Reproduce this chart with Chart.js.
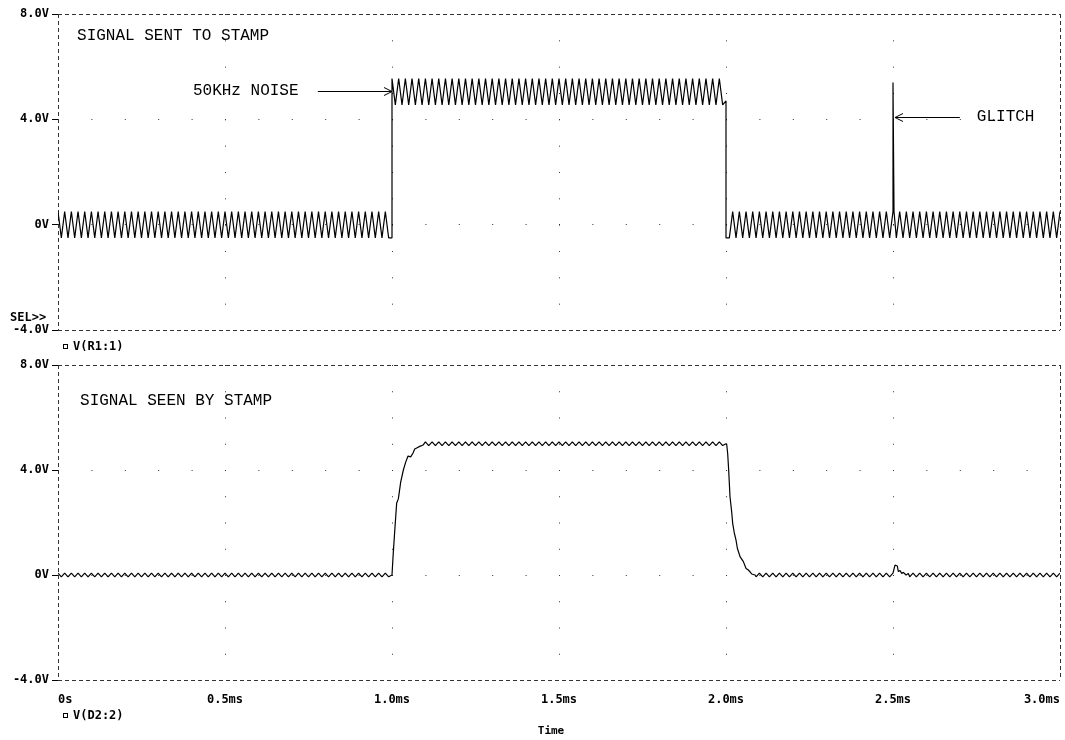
<!DOCTYPE html>
<html>
<head>
<meta charset="utf-8">
<script src="https://cdn.jsdelivr.net/npm/chart.js@4.4.1/dist/chart.umd.min.js"></script>
<style>
  html, body { margin: 0; padding: 0; background: #fff; }
  #boxSent { position: absolute; left: 0; top: 0; width: 1065px; height: 351px; }
  #boxSeen { position: absolute; left: 0; top: 351px; width: 1065px; height: 389px; }
</style>
</head>
<body>
<div id="boxSent"><canvas id="sent"></canvas></div>
<div id="boxSeen"><canvas id="seen"></canvas></div>
<script>
// eixos
const tickTimes = [0, 0.5, 1.0, 1.5, 2.0, 2.5, 3.0];
const tickTimeLabels = ['0s', '0.5ms', '1.0ms', '1.5ms', '2.0ms', '2.5ms', '3.0ms'];
const tickVolts = [-4, 0, 4, 8];
const tickVoltLabels = ['-4.0V', '0V', '4.0V', '8.0V'];

// ruido de 50 kHz: um pico ou vale a cada 10 us (0.01 ms)
const noiseStep = 0.01;

// V(R1:1) - sinal enviado
const sentLow = 0;
const sentHigh = 5.05;
const sentNoise = 0.5;
const sentRise = [[1.0, -0.5], [1.0, 5.55]];
const sentFall = [[2.0, 4.7], [2.0, -0.5]];
const sentGlitch = [[2.5, 5.4], [2.503, 0.5]];

// V(D2:2) - sinal visto
const seenLow = 0;
const seenHigh = 5.0;
const seenNoise = 0.07;
const seenRise = [[1.0, 0.0], [1.004, 0.88], [1.009, 1.83], [1.014, 2.74], [1.019, 2.9], [1.026, 3.54],
  [1.034, 4.0], [1.041, 4.3], [1.048, 4.53], [1.056, 4.5], [1.063, 4.65], [1.068, 4.8], [1.074, 4.84],
  [1.083, 4.9], [1.093, 4.95]];
const seenFall = [[2.0, 5.0], [2.002, 4.99], [2.005, 4.63], [2.008, 4.0], [2.012, 2.98], [2.017, 2.41],
  [2.020, 1.97], [2.025, 1.59], [2.030, 1.33], [2.034, 1.02], [2.042, 0.70], [2.052, 0.51], [2.060, 0.25],
  [2.067, 0.19], [2.077, 0.04], [2.087, 0.0]];
const seenGlitch = [[2.506, 0.38], [2.513, 0.34], [2.516, 0.13], [2.521, 0.17], [2.526, 0.06],
  [2.531, 0.10], [2.539, 0.0], [2.546, 0.06]];

// picos e vales do ruido, repetidos do indice k0 ate k1
function ripple(level, amp, k0, k1) {
    const pts = [];
    for (let k = k0; k <= k1; k++) {
        pts.push({ x: +(k * noiseStep).toFixed(3), y: level + (k % 2 === 0 ? amp : -amp) });
    }
    return pts;
}
const toPts = arr => arr.map(p => ({ x: p[0], y: p[1] }));

const sentData = [
    ...ripple(sentLow, sentNoise, 0, 99), ...toPts(sentRise),
    ...ripple(sentHigh, sentNoise, 101, 199), ...toPts(sentFall),
    ...ripple(sentLow, sentNoise, 201, 250), ...toPts(sentGlitch),
    ...ripple(sentLow, sentNoise, 251, 300)
];
const seenData = [
    ...ripple(seenLow, seenNoise, 0, 99), ...toPts(seenRise),
    ...ripple(seenHigh, seenNoise, 110, 199), ...toPts(seenFall),
    ...ripple(seenLow, seenNoise, 209, 250), ...toPts(seenGlitch),
    ...ripple(seenLow, seenNoise, 255, 300)
];

const labelFont = { family: '"DejaVu Sans Mono", monospace', size: 12, weight: 'bold' };
const noteFont = '16px "Liberation Mono", monospace';
const boldFont = 'bold 12px "DejaVu Sans Mono", monospace';

// moldura tracejada nas bordas, pontinhos nas linhas internas
function gridDash(c, axis) {
    if (!c.tick) return [];
    const a = c.chart.chartArea;
    if (!a) return [];
    const v = c.tick.value;
    if (axis === 'x') {
        if (v === 0 || v === 3) return [4, 3];
        return [1, (a.bottom - a.top) / 12 - 1]; // um ponto por volt
    }
    if (v === -4 || v === 8) return [4, 3];
    return [1, (a.right - a.left) / 30 - 1]; // um ponto a cada 0.1 ms
}

function makeScales(showTime) {
    return {
        x: {
            type: 'linear', min: 0, max: 3,
            afterBuildTicks: s => { s.ticks = tickTimes.map(v => ({ value: v })); },
            afterFit: s => { s.height = showTime ? 60 : 0; },
            ticks: {
                display: showTime, autoSkip: false, maxRotation: 0, align: 'inner', padding: 4,
                color: '#000', font: labelFont,
                callback: (v, i) => tickTimeLabels[i]
            },
            grid: { color: '#333', lineWidth: 1, drawTicks: showTime, tickLength: 9, tickColor: 'rgba(0,0,0,0)' },
            border: { display: false, dash: c => gridDash(c, 'x') }
        },
        y: {
            type: 'linear', min: -4, max: 8,
            afterBuildTicks: s => { s.ticks = tickVolts.map(v => ({ value: v })); },
            afterFit: s => { s.width = 58; },
            ticks: {
                color: '#000', font: labelFont, padding: 3,
                callback: (v, i) => tickVoltLabels[i]
            },
            grid: { color: '#333', lineWidth: 1, drawTicks: true, tickLength: 6, tickColor: '#000', tickBorderDash: [] },
            border: { display: false, dash: c => gridDash(c, 'y') }
        }
    };
}

function arrow(ctx, x1, x2, y) {
    const dir = x2 > x1 ? 1 : -1;
    ctx.beginPath();
    ctx.moveTo(x1, y + 0.5);
    ctx.lineTo(x2, y + 0.5);
    ctx.moveTo(x2 - dir * 8, y - 3.5);
    ctx.lineTo(x2, y + 0.5);
    ctx.lineTo(x2 - dir * 8, y + 4.5);
    ctx.stroke();
}

function legend(ctx, x, y, text) {
    ctx.strokeRect(x + 0.5, y - 2.5, 4, 4);
    ctx.font = boldFont;
    ctx.textBaseline = 'middle';
    ctx.fillText(text, x + 10, y);
}

const sentNotes = {
    id: 'sentNotes',
    afterDraw(chart) {
        const { ctx, chartArea: a } = chart;
        const x = chart.scales.x, y = chart.scales.y;
        ctx.save();
        ctx.fillStyle = '#000';
        ctx.strokeStyle = '#000';
        ctx.lineWidth = 1;
        ctx.font = noteFont;
        ctx.textBaseline = 'middle';
        ctx.fillText('SIGNAL SENT TO STAMP', x.getPixelForValue(0.057), y.getPixelForValue(7.17));
        ctx.fillText('50KHz NOISE', x.getPixelForValue(0.404), y.getPixelForValue(5.08));
        ctx.fillText('GLITCH', x.getPixelForValue(2.751), y.getPixelForValue(4.09));
        arrow(ctx, x.getPixelForValue(0.778), x.getPixelForValue(1.0), Math.round(y.getPixelForValue(5.08)));
        arrow(ctx, x.getPixelForValue(2.70), x.getPixelForValue(2.506), Math.round(y.getPixelForValue(4.09)));
        ctx.font = boldFont;
        ctx.fillText('SEL>>', 10, a.bottom - 12);
        legend(ctx, a.left + 5, a.bottom + 17, 'V(R1:1)');
        ctx.restore();
    }
};

const seenNotes = {
    id: 'seenNotes',
    afterDraw(chart) {
        const { ctx, chartArea: a } = chart;
        const x = chart.scales.x, y = chart.scales.y;
        ctx.save();
        ctx.fillStyle = '#000';
        ctx.strokeStyle = '#000';
        ctx.lineWidth = 1;
        ctx.font = noteFont;
        ctx.textBaseline = 'middle';
        ctx.fillText('SIGNAL SEEN BY STAMP', x.getPixelForValue(0.066), y.getPixelForValue(6.63));
        legend(ctx, a.left + 5, a.bottom + 36, 'V(D2:2)');
        ctx.font = 'bold 11px "DejaVu Sans Mono", monospace';
        ctx.textAlign = 'center';
        ctx.fillText('Time', 551, a.bottom + 51);
        ctx.restore();
    }
};

function makeChart(id, data, showTime, notes, padBottom) {
    return new Chart(document.getElementById(id), {
        type: 'line',
        data: {
            datasets: [{
                data: data,
                borderColor: '#000',
                borderWidth: 1.2,
                borderJoinStyle: 'bevel',
                pointRadius: 0,
                tension: 0,
                fill: false
            }]
        },
        options: {
            responsive: true,
            maintainAspectRatio: false,
            animation: false,
            devicePixelRatio: 1,
            layout: { padding: { left: 0, right: 5, top: 14, bottom: padBottom } },
            plugins: { legend: { display: false }, tooltip: { enabled: false } },
            scales: makeScales(showTime)
        },
        plugins: [notes]
    });
}

makeChart('sent', sentData, false, sentNotes, 21);
makeChart('seen', seenData, true, seenNotes, 0);
</script>
</body>
</html>
